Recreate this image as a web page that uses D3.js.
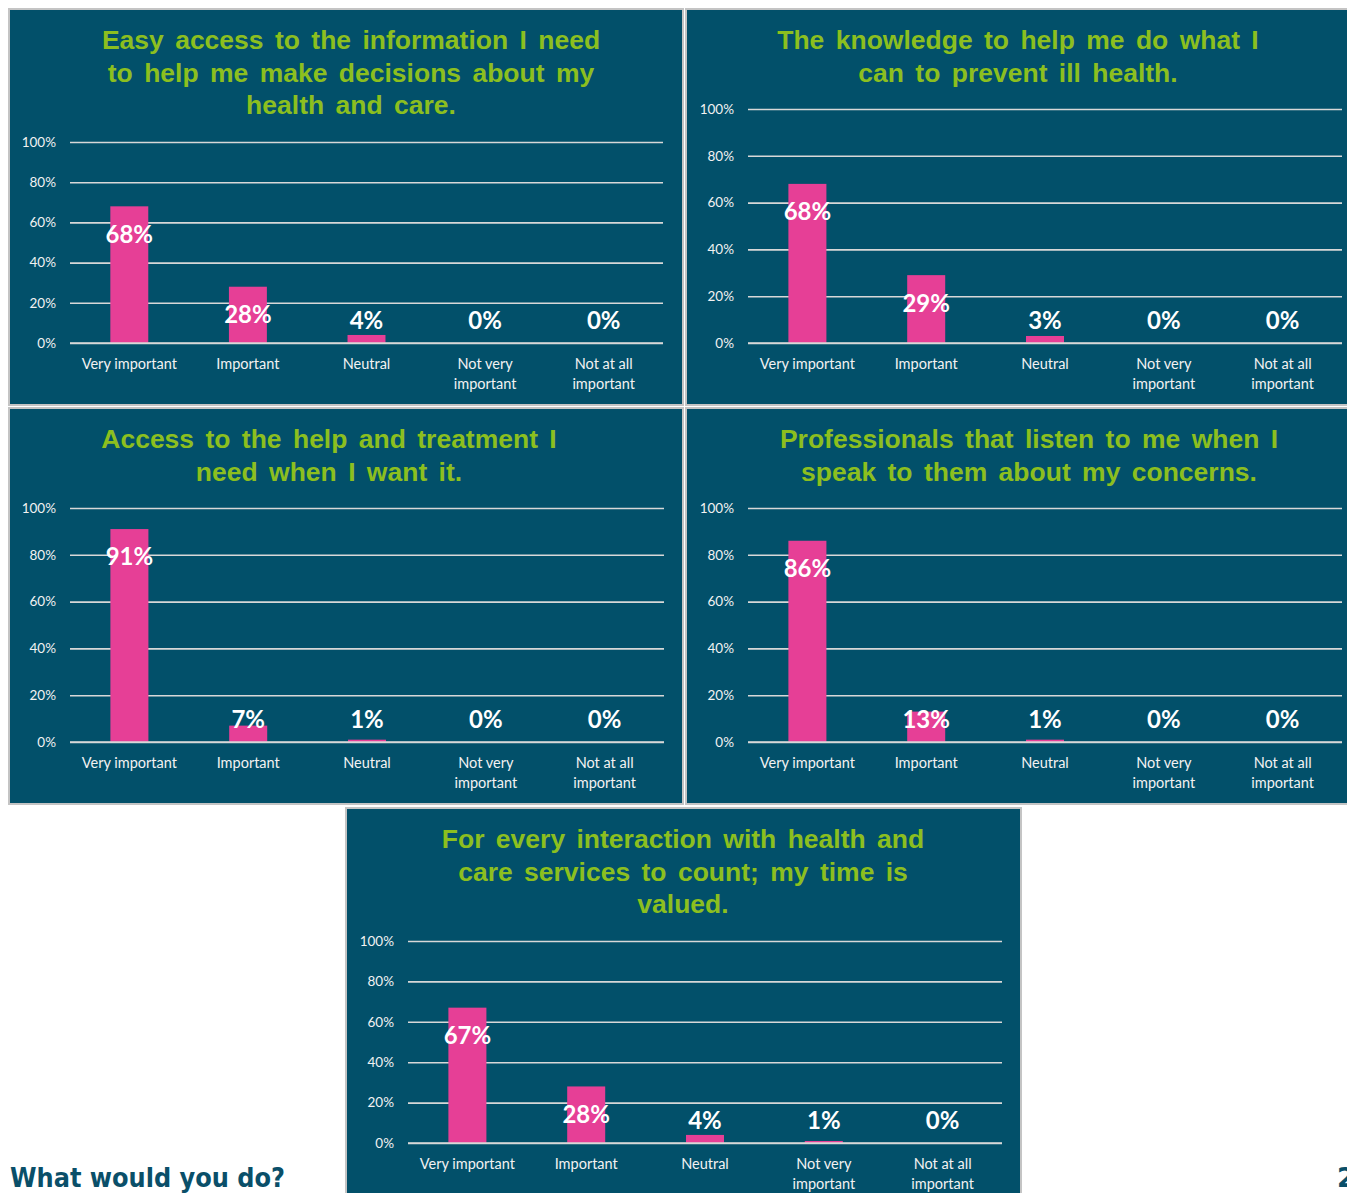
<!DOCTYPE html>
<html>
<head>
<meta charset="utf-8">
<script src="https://cdn.jsdelivr.net/npm/d3@7"></script>
<style>
  html, body { margin: 0; padding: 0; background: #ffffff; overflow: hidden; }
  svg { display: block; }
</style>
</head>
<body>
<svg id="chart" width="1347" height="1193"></svg>
<script>
// Survey answer categories (shared by every panel)
const categories = ["Very important", "Important", "Neutral", "Not very important", "Not at all important"];
const categoryLines = [["Very important"], ["Important"], ["Neutral"], ["Not very", "important"], ["Not at all", "important"]];

// Percentage of respondents per category, one array per statement
const valuesInformation = [68, 28, 4, 0, 0];
const valuesKnowledge   = [68, 29, 3, 0, 0];
const valuesAccess      = [91, 7, 1, 0, 0];
const valuesListen      = [86, 13, 1, 0, 0];
const valuesTime        = [67, 28, 4, 1, 0];

// Panel headings
const titleInformation = ["Easy access to the information I need", "to help me make decisions about my", "health and care."];
const titleKnowledge   = ["The knowledge to help me do what I", "can to prevent ill health."];
const titleAccess      = ["Access to the help and treatment I", "need when I want it."];
const titleListen      = ["Professionals that listen to me when I", "speak to them about my concerns."];
const titleTime        = ["For every interaction with health and", "care services to count; my time is", "valued."];

// Y-axis ticks
const tickValues = [0, 20, 40, 60, 80, 100];

const COLORS = {
  panel: "#02506a",
  border: "#c4c4c4",
  title: "#8cbf1f",
  bar: "#e63f96",
  grid: "#d8d8d8",
  text: "#f2f2f2",
  footer: "#0a4f69"
};

// Panel frames and plot areas
const panels = [
  { box: [9, 9, 674, 396],   plot: { x0: 70,  x1: 663,  yTop: 142, yBottom: 343 },  titleX: 351,  titleY: 40,  values: valuesInformation, title: titleInformation },
  { box: [686, 9, 680, 396], plot: { x0: 748, x1: 1342, yTop: 109, yBottom: 343 },  titleX: 1018, titleY: 40,  values: valuesKnowledge,   title: titleKnowledge },
  { box: [9, 408, 674, 396], plot: { x0: 70,  x1: 664,  yTop: 508, yBottom: 742 },  titleX: 329,  titleY: 439, values: valuesAccess,      title: titleAccess },
  { box: [686, 408, 680, 396], plot: { x0: 748, x1: 1342, yTop: 508, yBottom: 742 }, titleX: 1029, titleY: 439, values: valuesListen,      title: titleListen },
  { box: [346, 808, 675, 420], plot: { x0: 408, x1: 1002, yTop: 941, yBottom: 1143 }, titleX: 683, titleY: 839, values: valuesTime,       title: titleTime }
];

const svg = d3.select("#chart");

panels.forEach(p => {
  const g = svg.append("g");
  const [bx, by, bw, bh] = p.box;

  g.append("rect")
    .attr("x", bx).attr("y", by).attr("width", bw).attr("height", bh)
    .attr("fill", COLORS.panel)
    .attr("stroke", COLORS.border).attr("stroke-width", 2);

  // Heading
  const t = g.append("text")
    .attr("text-anchor", "middle")
    .attr("font-family", "'Liberation Sans', Arial, sans-serif")
    .attr("font-weight", "bold")
    .attr("font-size", 26.5)
    .attr("fill", COLORS.title)
    .style("word-spacing", "4px");
  p.title.forEach((line, i) => {
    t.append("tspan")
      .attr("x", p.titleX)
      .attr("y", p.titleY + i * 32.5)
      .attr("dy", "0.35em")
      .text(line);
  });

  const x = d3.scaleBand()
    .domain(categories)
    .range([p.plot.x0, p.plot.x1])
    .paddingInner(0.68).paddingOuter(0.34);

  const y = d3.scaleLinear()
    .domain([0, 100])
    .range([p.plot.yBottom, p.plot.yTop]);

  // Gridlines with percentage labels
  const yAxis = g.append("g")
    .attr("transform", `translate(${p.plot.x0},0)`)
    .call(d3.axisLeft(y).tickValues(tickValues).tickFormat(d => d + "%")
      .tickSize(-(p.plot.x1 - p.plot.x0)).tickPadding(14));
  yAxis.select(".domain").remove();
  yAxis.selectAll(".tick line").attr("stroke", COLORS.grid).attr("stroke-width", 1.6);
  yAxis.selectAll(".tick text")
    .attr("fill", COLORS.text)
    .attr("font-family", "Lato, 'Open Sans', sans-serif")
    .attr("font-size", 13.5);

  // Bars
  g.selectAll("rect.bar")
    .data(p.values)
    .join("rect")
    .attr("class", "bar")
    .attr("x", (d, i) => x(categories[i]))
    .attr("width", x.bandwidth())
    .attr("y", d => y(d))
    .attr("height", d => y(0) - y(d))
    .attr("fill", COLORS.bar);

  // Redraw baseline over bars
  g.append("line")
    .attr("x1", p.plot.x0).attr("x2", p.plot.x1)
    .attr("y1", y(0)).attr("y2", y(0))
    .attr("stroke", COLORS.grid).attr("stroke-width", 1.6);

  // Category labels
  const xAxis = g.append("g")
    .attr("transform", `translate(0,${p.plot.yBottom})`)
    .call(d3.axisBottom(x).tickSize(0).tickFormat(""));
  xAxis.select(".domain").remove();
  xAxis.selectAll(".tick").each(function (d, i) {
    const tt = d3.select(this).append("text")
      .attr("fill", COLORS.text)
      .attr("text-anchor", "middle")
      .attr("font-family", "Lato, 'Open Sans', sans-serif")
      .attr("font-size", 14.5);
    categoryLines[i].forEach((line, j) => {
      tt.append("tspan")
        .attr("x", 0)
        .attr("y", 21 + j * 20)
        .attr("dy", "0.35em")
        .text(line);
    });
  });

  // Value labels
  g.selectAll("text.value")
    .data(p.values)
    .join("text")
    .attr("class", "value")
    .attr("x", (d, i) => x(categories[i]) + x.bandwidth() / 2)
    .attr("y", d => Math.min(y(d) + 28, y(0) - 22))
    .attr("dy", "0.35em")
    .attr("text-anchor", "middle")
    .attr("font-family", "Lato, 'Open Sans', sans-serif")
    .attr("font-weight", "bold")
    .attr("font-size", 24)
    .attr("fill", "#ffffff")
    .text(d => d + "%");
});

// Footer
svg.append("text")
  .attr("x", 10).attr("y", 1187)
  .attr("font-family", "'DejaVu Sans', Verdana, sans-serif")
  .attr("font-weight", "bold")
  .attr("font-size", 26)
  .attr("textLength", 275)
  .attr("lengthAdjust", "spacingAndGlyphs")
  .attr("fill", COLORS.footer)
  .text("What would you do?");

svg.append("text")
  .attr("x", 1337).attr("y", 1187)
  .attr("font-family", "'DejaVu Sans', Verdana, sans-serif")
  .attr("font-weight", "bold")
  .attr("font-size", 26)
  .attr("fill", COLORS.footer)
  .text("2");
</script>
</body>
</html>
